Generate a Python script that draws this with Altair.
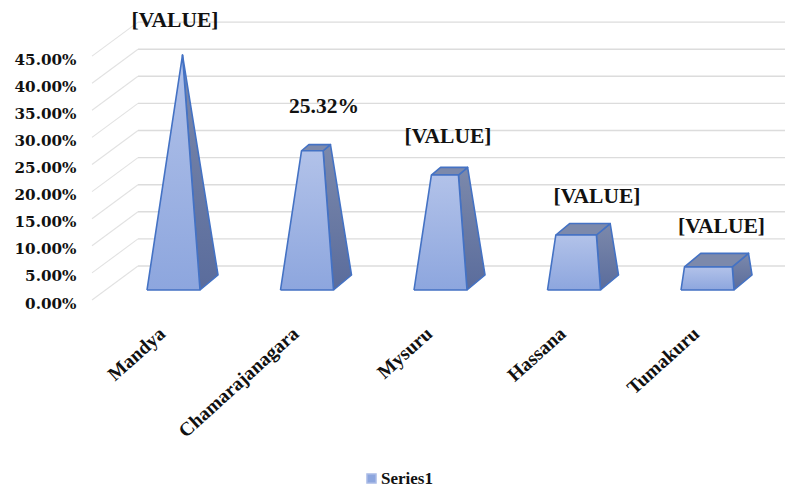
import altair as alt
import pandas as pd

# ---- values ----
categories = ["Mandya", "Chamarajanagara", "Mysuru", "Hassana", "Tumakuru"]
values = [0.427, 0.2532, 0.209, 0.10, 0.042]
value_labels = ["[VALUE]", "25.32%", "[VALUE]", "[VALUE]", "[VALUE]"]
axis_ticks = [0, 0.05, 0.10, 0.15, 0.20, 0.25, 0.30, 0.35, 0.40, 0.45]
series_name = ["Series1"]

# ---- layout (pixels in the page) ----
PLOT_L, PLOT_R, PLOT_T, PLOT_B = 80, 787, 8, 479
FLOOR_FRONT = 300
PX_PER_UNIT = 542.0
WALL_DX, WALL_DY = 46, 34
WALL_R = 785
FIRST_C, STEP_C = 173.5, 133.5
HALF_W = 26.5
DEPTH_DX, DEPTH_DY = 18, 15
BASE_Y = 290
BAR_PX_PER_UNIT = 550.0
LABEL_DX = [1.5, 17, 7.5, 23, 14]
LABEL_DY = [34, 44, 38, 38, 40]
SERIF = "Liberation Serif"
DSERIF = "DejaVu Serif"


def yv(py):
    return (FLOOR_FRONT - py) / PX_PER_UNIT


vmax = max(values)
rows = []
for i, (cat, v) in enumerate(zip(categories, values)):
    c = FIRST_C + STEP_C * i
    t = v / vmax
    apex = (c + DEPTH_DX / 2, BASE_Y - BAR_PX_PER_UNIT * vmax)

    def P(bx, by):
        return (bx + t * (apex[0] - bx), by + t * (apex[1] - by))

    fl0, fr0 = (c - HALF_W, BASE_Y), (c + HALF_W, BASE_Y)
    br0 = (c + HALF_W + DEPTH_DX, BASE_Y - DEPTH_DY)
    bl0 = (c - HALF_W + DEPTH_DX, BASE_Y - DEPTH_DY)
    flt, frt, brt, blt = P(*fl0), P(*fr0), P(*br0), P(*bl0)
    faces = {
        "side": [fr0, br0, brt, frt, fr0],
        "top": [flt, frt, brt, blt, flt],
        "front": [fl0, fr0, frt, flt, fl0],
    }
    for face, pts in faces.items():
        for k, (x, y) in enumerate(pts):
            rows.append(dict(cat=cat, face=face, k=k, x=x, y=yv(y)))
poly = pd.DataFrame(rows)

X_SCALE = alt.Scale(domain=[PLOT_L, PLOT_R], nice=False, zero=False)
X = alt.X("x:Q", axis=None, scale=X_SCALE)
Y_SCALE = alt.Scale(domain=[yv(PLOT_B), yv(PLOT_T)], nice=False, zero=False)
Y_AXIS = alt.Axis(
    values=axis_ticks,
    format=".2%",
    domain=False,
    ticks=False,
    grid=False,
    title=None,
    labelFont=DSERIF,
    labelFontWeight="bold",
    labelFontSize=15.2,
    labelColor="#111111",
    labelPadding=4,
    labelOffset=3,
    labelOverlap=False,
    labelBound=False,
    labelFlush=False,
)
Y = alt.Y("y:Q", axis=Y_AXIS, scale=Y_SCALE)

wall = yv(FLOOR_FRONT - WALL_DY) - yv(FLOOR_FRONT)
grid_df = pd.DataFrame(
    {
        "x": [PLOT_L + 12] * len(axis_ticks),
        "xb": [PLOT_L + 12 + WALL_DX] * len(axis_ticks),
        "xr": [WALL_R] * len(axis_ticks),
        "y": axis_ticks,
        "yb": [t + wall for t in axis_ticks],
    }
)

grid_d = (
    alt.Chart(grid_df)
    .mark_rule(color="#E2E2E2", strokeWidth=1.1)
    .encode(x=alt.X("x:Q", axis=None, scale=X_SCALE), x2="xb:Q", y=Y, y2="yb:Q")
)
grid_h = (
    alt.Chart(grid_df)
    .mark_rule(color="#DCDCDC", strokeWidth=1.4)
    .encode(
        x=alt.X("xb:Q", axis=None, scale=X_SCALE),
        x2="xr:Q",
        y=alt.Y("yb:Q", scale=Y_SCALE, axis=Y_AXIS),
    )
)


def face_layer(face, fill):
    return (
        alt.Chart(poly[poly.face == face])
        .mark_line(fill=fill, stroke="#4472C4", strokeWidth=1.6, strokeJoin="round", interpolate="linear")
        .encode(x=X, y=Y, detail="cat:N", order="k:Q")
    )


def grad(top, bottom):
    return alt.Gradient(
        gradient="linear",
        x1=0,
        x2=0,
        y1=0,
        y2=1,
        stops=[alt.GradientStop(color=top, offset=0), alt.GradientStop(color=bottom, offset=1)],
    )


side = face_layer("side", grad("#7C89AB", "#5A6C9C"))
top = face_layer("top", "#7C89AB")
front = face_layer("front", grad("#B2C2E9", "#8DA6DE"))

tops = [BASE_Y - BAR_PX_PER_UNIT * v for v in values]
label_df = pd.DataFrame(
    {
        "x": [FIRST_C + STEP_C * i + LABEL_DX[i] for i in range(len(categories))],
        "y": [yv(p - LABEL_DY[i]) for i, p in enumerate(tops)],
        "label": value_labels,
    }
)
labels = (
    alt.Chart(label_df)
    .mark_text(font=SERIF, fontWeight="bold", fontSize=21.5, color="#111111", align="center", baseline="middle")
    .encode(x=X, y=Y, text="label:N")
)

cat_df = pd.DataFrame(
    {
        "x": [FIRST_C + STEP_C * i - 11 for i in range(len(categories))],
        "y": [yv(331)] * len(categories),
        "cat": categories,
    }
)
cat_labels = (
    alt.Chart(cat_df)
    .mark_text(font=SERIF, fontWeight="bold", fontSize=19.5, color="#111111", align="right", baseline="middle", angle=318)
    .encode(x=X, y=Y, text="cat:N")
)

legend_df = pd.DataFrame({"x": [PLOT_L], "y": [0.0], "series": series_name})
legend_layer = (
    alt.Chart(legend_df)
    .mark_point(size=0, filled=True, opacity=0)
    .encode(
        x=X,
        y=Y,
        color=alt.Color(
            "series:N",
            scale=alt.Scale(range=["#8DA6DE"]),
            legend=alt.Legend(
                orient="none",
                legendX=283,
                legendY=462,
                title=None,
                symbolType="square",
                symbolSize=81,
                symbolOpacity=1,
                symbolStrokeColor="#A9BBE6",
                labelFont=SERIF,
                labelFontWeight="bold",
                labelFontSize=17,
                labelColor="#111111",
                labelOffset=1,
                padding=0,
            ),
        ),
    )
)

chart = (
    alt.layer(grid_d, grid_h, side, top, front, labels, cat_labels, legend_layer)
    .properties(
        width=PLOT_R - PLOT_L,
        height=PLOT_B - PLOT_T,
        autosize=alt.AutoSizeParams(type="none"),
        padding={"left": PLOT_L - 8, "top": 0, "right": 0, "bottom": 8},
        background="white",
    )
    .configure_view(stroke=None)
)

chart.save("out.html", embed_options={"renderer": "svg", "actions": False})
